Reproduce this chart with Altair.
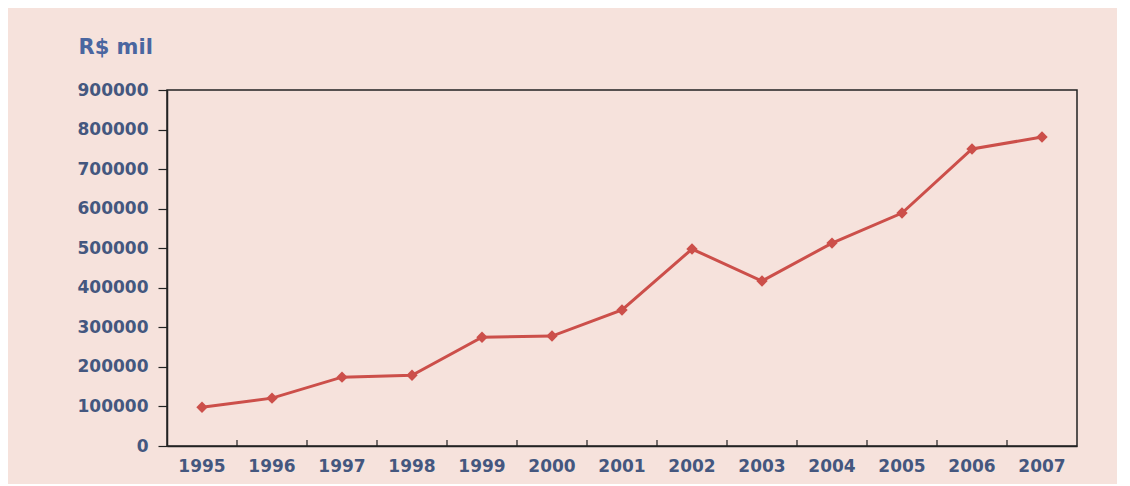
import altair as alt
import pandas as pd

years = ["1995", "1996", "1997", "1998", "1999", "2000", "2001",
         "2002", "2003", "2004", "2005", "2006", "2007"]
values = [98000, 121000, 174000, 179000, 275000, 278000, 344000,
          498000, 417000, 513000, 589000, 751000, 781000]
y_ticks = [0, 100000, 200000, 300000, 400000, 500000, 600000, 700000, 800000, 900000]

df = pd.DataFrame({"ano": years, "valor": values})

W, H = 910, 356
BAND = W / len(years)
LABEL = "#44577f"
RED = "#cc4f4a"

x_enc = alt.X("ano:N", sort=years,
              scale=alt.Scale(paddingInner=0, paddingOuter=0),
              axis=alt.Axis(title=None, labelAngle=0, labelFont="DejaVu Sans",
                            labelFontWeight="bold", labelFontSize=17, labelColor=LABEL,
                            labelPadding=12, ticks=False, domainColor="#222",
                            domainWidth=1.5, grid=False, labelAlign="center"))
y_enc = alt.Y("valor:Q",
              scale=alt.Scale(domain=[0, 900000], nice=False, zero=True),
              axis=alt.Axis(values=y_ticks, format="d", title="R$ mil",
                            titleAngle=0, titleAlign="left", titleBaseline="alphabetic",
                            titleX=-89, titleY=-37, titleFont="DejaVu Sans",
                            titleFontSize=21, titleFontWeight="bold", titleColor="#4a66a0",
                            labelFont="DejaVu Sans", labelFontWeight="bold",
                            labelFontSize=17, labelColor=LABEL, labelPadding=10,
                            tickSize=9, tickColor="#222", tickWidth=1.2,
                            domainColor="#222", domainWidth=1.5, grid=False))

line = alt.Chart(df).mark_line(color=RED, strokeWidth=3).encode(x=x_enc, y=y_enc)
pts = alt.Chart(df).mark_point(shape="diamond", filled=True, color=RED, size=130,
                               opacity=1).encode(x=x_enc, y=y_enc)
ticks = alt.Chart(df[1:]).mark_rule(color="#222", strokeWidth=1.2,
                                    xOffset=-BAND / 2).encode(
    x=x_enc, y=alt.value(H - 6), y2=alt.value(H))

chart = alt.layer(line, pts, ticks).properties(
    width=W, height=H,
    background="#f6e2dc",
    padding={"left": 159, "top": 82, "right": 40, "bottom": 38},
    autosize=alt.AutoSizeParams(type="none"),
).configure_view(stroke="#222", strokeWidth=1.5, fill="#f6e2dc")

chart.save("out.html", embed_options={"renderer": "svg", "actions": False})
